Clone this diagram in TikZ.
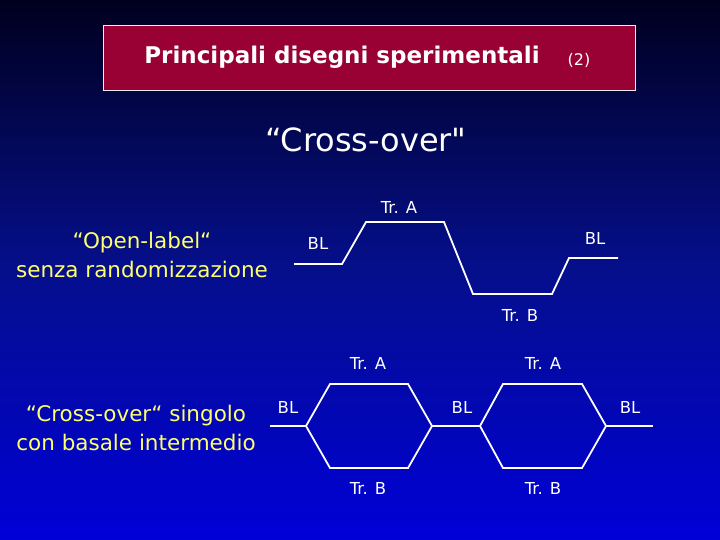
\documentclass[tikz,border=0pt]{standalone}
\usepackage{fontspec}
\setmainfont{DejaVu Sans}
\newfontfamily\nomap{DejaVu Sans}
\definecolor{bgtop}{RGB}{0,0,30}
\definecolor{bgmid}{RGB}{5,15,140}
\definecolor{bgbot}{RGB}{0,0,215}
\definecolor{titlered}{RGB}{153,0,51}
\definecolor{ylw}{RGB}{255,255,110}
\begin{document}
\begin{tikzpicture}[x=1pt,y=-1pt,
  curve/.style={draw=white,line width=1.8pt,line join=miter},
  lbl/.style={text=white,font=\fontsize{16.5}{18}\selectfont,inner sep=0pt},
  side/.style={text=ylw,font=\fontsize{21.5}{29}\selectfont,align=center,inner sep=0pt}]
\useasboundingbox (0,0) rectangle (720,540);
\shade[top color=bgtop,bottom color=bgbot,middle color=bgmid,shading angle=0] (0,0) rectangle (720,540);
\node[draw=white!85!gray,line width=1pt,fill=titlered,minimum width=532pt,minimum height=65pt,anchor=north west,inner sep=0pt] (tbox) at (103,25) {};
\node[text=white,font=\bfseries\fontsize{23}{26}\selectfont,inner sep=0pt] (ttl) at (342,57) {Principali disegni sperimentali};
\node[text=white,font=\fontsize{16}{18}\selectfont,inner sep=0pt] (tnum) at (579,60) {(2)};
\node[text=white,font=\fontsize{32}{36}\selectfont,inner sep=0pt] (co) at (366,140) {“Cross-over{\nomap"}};
% left labels
\node[side] (ol) at (142,255) {“Open-label“\\senza randomizzazione};
\node[side] (cs) at (136,428) {“Cross-over“ singolo\\con basale intermedio};
% top curve
\coordinate (a0) at (294,264);
\coordinate (a1) at (342,264);
\coordinate (a2) at (366,222);
\coordinate (a3) at (444,222);
\coordinate (a4) at (473,294);
\coordinate (a5) at (552,294);
\coordinate (a6) at (569,258);
\coordinate (a7) at (618,258);
\draw[curve] (a0) -- (a1) -- (a2) -- (a3) -- (a4) -- (a5) -- (a6) -- (a7);
\node[lbl] (bl1) at (318,243) {BL};
\node[lbl] (tra1) at (399,207) {Tr. A};
\node[lbl] (bl2) at (595,238) {BL};
\node[lbl] (trb1) at (520,315) {Tr. B};
% bottom hexagons
\coordinate (b0) at (270,426);
\coordinate (b1) at (306,426);
\coordinate (b2) at (330,384);
\coordinate (b3) at (408,384);
\coordinate (b4) at (432,426);
\coordinate (b5) at (408,468);
\coordinate (b6) at (330,468);
\coordinate (c1) at (480,426);
\coordinate (c2) at (503,384);
\coordinate (c3) at (582,384);
\coordinate (c4) at (606,426);
\coordinate (c5) at (582,468);
\coordinate (c6) at (503,468);
\coordinate (c7) at (653,426);
\draw[curve] (b0) -- (b1);
\draw[curve] (b1) -- (b2) -- (b3) -- (b4) -- (b5) -- (b6) -- cycle;
\draw[curve] (b4) -- (c1);
\draw[curve] (c1) -- (c2) -- (c3) -- (c4) -- (c5) -- (c6) -- cycle;
\draw[curve] (c4) -- (c7);
\node[lbl] (bl3) at (288,407) {BL};
\node[lbl] (bl4) at (462,407) {BL};
\node[lbl] (bl5) at (630,407) {BL};
\node[lbl] (tra2) at (368,363) {Tr. A};
\node[lbl] (tra3) at (543,363) {Tr. A};
\node[lbl] (trb2) at (368,488) {Tr. B};
\node[lbl] (trb3) at (543,488) {Tr. B};
\end{tikzpicture}
\end{document}
